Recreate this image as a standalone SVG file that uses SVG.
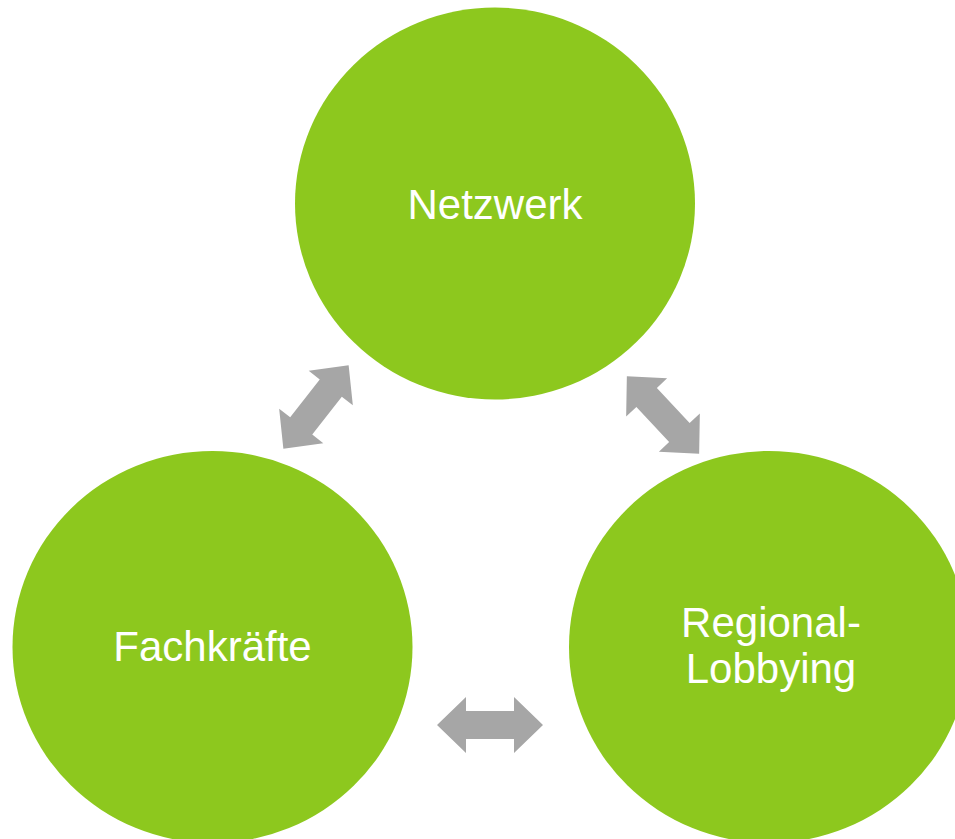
<svg xmlns="http://www.w3.org/2000/svg" width="955" height="839" viewBox="0 0 955 839">
  <defs>
    <style>
      .node { fill: #8DC81E; }
      .lbl { fill: #FFFFFF; font-family: "Liberation Sans", Arial, sans-serif; font-size: 42px; text-anchor: middle; }
      .conn { fill: #A6A6A6; }
    </style>
    <path id="dbl" d="M -53 0 L -24 -28 L -24 -14 L 24 -14 L 24 -28 L 53 0 L 24 28 L 24 14 L -24 14 L -24 28 Z"/>
  </defs>
  <rect width="955" height="839" fill="#FFFFFF"/>
  <g id="node-netzwerk">
    <ellipse class="node" cx="495" cy="203.5" rx="200" ry="196"/>
    <text class="lbl" x="495" y="219">Netzwerk</text>
  </g>
  <g id="node-fachkraefte">
    <ellipse class="node" cx="212.5" cy="647" rx="200" ry="196"/>
    <text class="lbl" x="212.5" y="661">Fachkräfte</text>
  </g>
  <g id="node-regional">
    <ellipse class="node" cx="769" cy="647" rx="200" ry="196"/>
    <text class="lbl" x="771" y="637">Regional-</text>
    <text class="lbl" x="771" y="683">Lobbying</text>
  </g>
  <g id="connectors">
    <use class="conn" href="#dbl" transform="translate(316 407) rotate(-52)"/>
    <use class="conn" href="#dbl" transform="translate(663 415) rotate(47)"/>
    <use class="conn" href="#dbl" transform="translate(490 725)"/>
  </g>
</svg>
